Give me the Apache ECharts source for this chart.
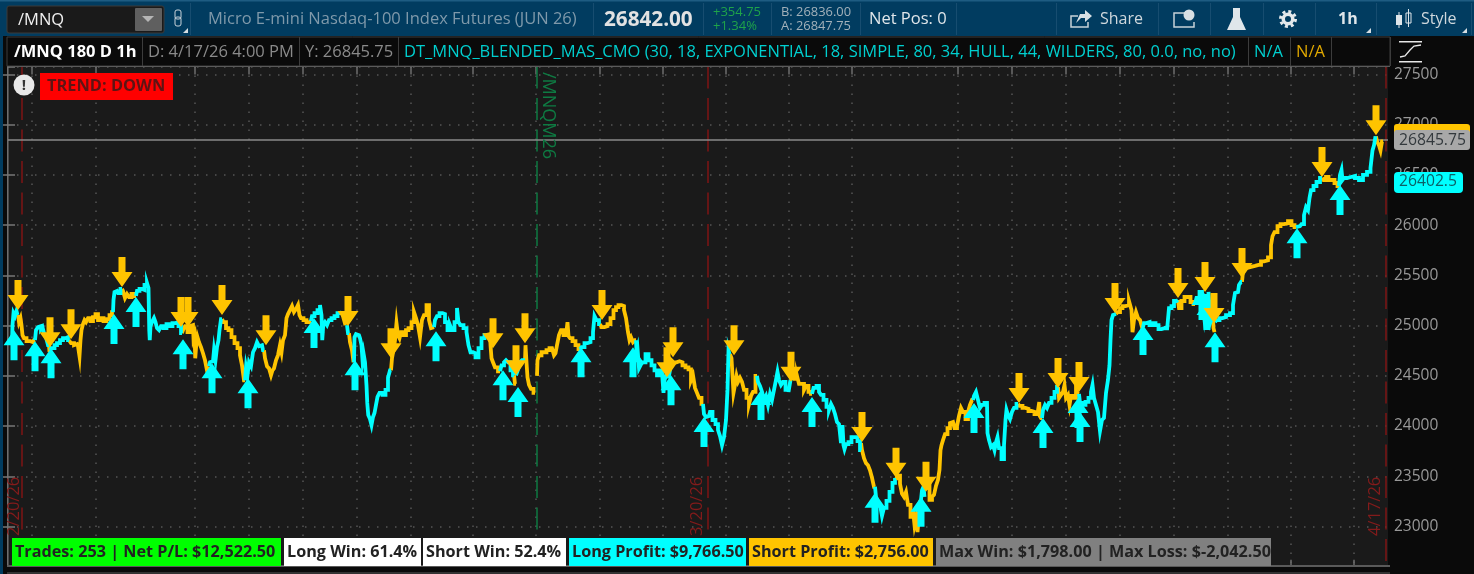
<!DOCTYPE html>
<html>
<head>
<meta charset="utf-8">
<title>/MNQ 180 D 1h</title>
<style>
  html, body { margin: 0; padding: 0; background: #0a0a0a; }
  #main { width: 1474px; height: 574px; }
</style>
<script src="https://cdn.jsdelivr.net/npm/echarts@6/dist/echarts.min.js"></script>
</head>
<body>
<div id="main"></div>
<script>
// price line as [bar, price], one list per trend leg
var longLegs = [
  [[8,24825],[10,25005],[12,25125],[16,25095],[18,25145],[20,25105]],
  [[54,24855],[58,24955],[62,24985],[64,24995],[68,24965],[70,24985],[74,24925],[78,24885],[82,24805]],
  [[84,24755],[90,24775],[96,24805],[100,24825],[108,24855],[112,24875],[118,24885],[122,24855]],
  [[210,25135],[212,25255],[214,25335],[218,25345],[222,25325],[228,25365]],
  [[256,25295],[260,25345],[266,25365],[270,25355],[276,25405],[280,25425],[282,25375],[283,24955],[284,24855],[286,24995],[290,25035],[294,25075],[296,25035],[300,24975],[304,24955],[308,24995],[314,24975],[320,25015],[326,24995],[332,25025],[338,25035],[344,24995],[348,24925]],
  [[402,24595],[406,24635],[410,24645],[414,24755],[416,24655],[420,24785],[422,24855],[424,24955],[428,25065]],
  [[474,24455],[478,24585],[480,24505],[484,24635],[488,24595],[492,24735],[496,24775],[500,24835],[504,24795],[508,24805],[512,24755]],
  [[606,25045],[610,25095],[616,25125],[622,25155],[626,25205],[628,25105],[629,24855],[632,25005],[636,25035],[640,25005],[644,25055],[650,25075],[656,25095],[662,25125],[668,25135]],
  [[678,25005],[682,24925]],
  [[692,24635],[694,24885],[698,24915],[702,24905],[706,24875],[708,24805],[710,24655],[712,24725],[716,24635],[718,24405],[719,24230],[722,24110],[726,24070],[728,24010],[732,24090],[734,24130],[738,24210],[740,24290],[746,24330],[752,24310],[758,24360],[762,24480],[766,24555]],
  [[852,24985],[856,25055],[860,25095],[866,25125],[872,25115],[876,25035],[882,24955],[886,25005],[890,24955],[896,25035],[900,25175],[902,25035],[908,25005],[914,24975],[920,24935],[922,24805],[928,24735],[932,24725],[938,24685],[944,24775],[950,24875],[956,24905]],
  [[984,24545],[990,24605],[994,24635],[998,24655],[1002,24635],[1008,24555],[1012,24505]],
  [[1016,24505],[1020,24495],[1022,24575],[1026,24635],[1030,24655],[1034,24655]],
  [[1144,24765],[1150,24785],[1156,24825],[1162,24835],[1168,24875],[1172,24935],[1174,25095],[1180,25055],[1184,25015]],
  [[1256,24855],[1258,24735],[1260,24775],[1264,24575],[1268,24615],[1272,24635],[1278,24715],[1284,24655],[1290,24605],[1296,24555],[1300,24505],[1306,24555],[1310,24535],[1312,24330],[1314,24455],[1318,24505],[1324,24475],[1326,24585]],
  [[1390,24220],[1394,24120],[1398,24090],[1402,24100],[1406,24140],[1412,24060],[1418,24020],[1422,23960],[1426,23900],[1430,23810],[1434,23890],[1438,24060],[1440,24360],[1442,24755],[1444,24715]],
  [[1498,24500],[1502,24440],[1506,24400],[1510,24340],[1514,24260],[1518,24300],[1522,24210],[1526,24320],[1530,24260],[1534,24360],[1538,24460],[1540,24540],[1544,24460],[1548,24410],[1552,24440],[1558,24360],[1564,24340],[1566,24460]],
  [[1608,24320],[1614,24380],[1620,24400],[1624,24340],[1628,24310],[1634,24260],[1640,24190],[1644,24160],[1648,24220],[1652,24180],[1656,24120],[1660,24040],[1664,24020],[1668,23830],[1670,24010],[1672,23810],[1674,23770],[1678,23820],[1684,23840],[1690,23890],[1696,23890],[1702,23850],[1706,23760]],
  [[1734,23395],[1738,23295],[1742,23245],[1746,23215],[1750,23105],[1754,23185],[1760,23255],[1766,23345],[1772,23435],[1776,23465]],
  [[1826,23265],[1830,23360],[1832,23395],[1834,23295]],
  [[1930,24260],[1934,24300],[1938,24340],[1942,24260],[1946,24180],[1950,24210],[1956,24230],[1958,24230],[1960,23930],[1964,23860],[1968,23790],[1972,23810],[1974,23760],[1978,23840],[1980,23890],[1984,23780],[1990,23670],[1994,23810],[1996,24060],[1998,24160],[2002,24110],[2006,24070],[2010,24140],[2014,24180],[2020,24220]],
  [[2068,24080],[2072,24160],[2076,24210],[2080,24180],[2084,24230],[2090,24280],[2096,24340],[2100,24390]],
  [[2142,24320],[2146,24230],[2152,24210],[2158,24240],[2164,24280],[2168,24340],[2170,24410],[2174,24280],[2178,24210],[2182,24140],[2186,23950],[2190,24060],[2194,24080],[2198,24330],[2202,24460],[2204,24605],[2206,24855],[2208,25055],[2212,25105],[2216,25115]],
  [[2270,24985],[2274,25025],[2280,25035],[2286,25005],[2292,25025],[2298,25005],[2304,24965],[2310,24975],[2316,24985],[2320,24955],[2324,25175],[2330,25195],[2334,25245],[2340,25255]],
  [[2374,25215],[2380,25275],[2386,25335],[2390,25255],[2394,25095],[2398,25295],[2404,25335],[2406,25035],[2410,25075]],
  [[2414,25035],[2420,25055],[2426,25075],[2432,25085],[2440,25105],[2448,25125],[2452,25205],[2456,25325],[2460,25335],[2464,25405],[2468,25435]],
  [[2576,25980],[2584,25990],[2590,26010],[2594,26100],[2598,26180],[2602,26150],[2604,26270],[2608,26350],[2614,26390],[2620,26430],[2628,26470]],
  [[2662,26390],[2666,26500],[2668,26550],[2670,26450],[2674,26470],[2682,26480],[2690,26490],[2698,26470],[2706,26450],[2714,26500],[2722,26530],[2728,26570],[2730,26745],[2734,26795],[2736,26885]]
];
var shortLegs = [
  [[20,25105],[24,25035],[26,25075],[28,25005],[30,24905],[34,24875],[40,24845],[50,24835],[54,24855]],
  [[82,24805],[84,24735]],
  [[122,24855],[130,24825],[134,24805],[138,24815],[142,24795],[144,24695],[146,24855],[148,24955],[152,25015],[154,25055],[158,25035],[162,25075],[168,25045],[172,25085],[178,25115],[182,25055],[188,25075],[194,25045],[200,25065],[206,25105],[210,25135]],
  [[228,25365],[232,25345],[236,25275],[240,25315],[244,25285],[250,25315],[256,25295]],
  [[348,24925],[352,24955],[356,24995],[362,24935],[366,24995],[370,25005],[372,24875],[374,24905],[375,24675],[378,24805],[380,24885],[384,24835],[388,24785],[392,24725],[396,24655],[400,24555],[402,24595]],
  [[428,25065],[434,25035],[438,24975],[444,24955],[450,24885],[456,24825],[462,24775],[466,24705],[470,24605],[474,24455]],
  [[512,24755],[516,24675],[520,24595],[524,24575],[528,24505],[530,24555],[534,24575],[538,24655],[542,24705],[546,24805],[548,24735],[552,24855],[556,24905],[558,25075],[562,25115],[566,25155],[570,25195],[574,25135],[578,25165],[582,25205],[584,25105],[588,25075],[594,25055],[600,25035],[606,25045]],
  [[668,25135],[674,25075],[676,25005]],
  [[682,24925],[686,24835],[690,24755],[692,24635]],
  [[766,24555],[770,24675],[772,24755],[776,24855],[778,25025],[782,24905],[784,24875],[788,24935],[794,24905],[798,24955],[804,24975],[810,25035],[814,25135],[818,25075],[822,25005],[826,24885],[830,25055],[834,25105],[840,25205],[844,25055],[848,24975],[852,24985]],
  [[956,24905],[964,24915],[966,24805],[968,24675],[972,24635],[976,24585],[984,24545]],
  [[1012,24505],[1016,24420]],
  [[1034,24655],[1036,24805],[1038,24635],[1040,24485],[1044,24410],[1048,24370],[1054,24330]],
  [[1058,24500],[1060,24655],[1064,24705],[1070,24735],[1074,24735],[1080,24755],[1086,24775],[1090,24785],[1094,24705],[1096,24725],[1100,24805],[1104,24905],[1108,24955],[1114,24905],[1118,24895],[1120,25035],[1122,24895],[1126,24875],[1132,24845],[1138,24805],[1144,24765]],
  [[1184,25015],[1190,24985],[1196,24995],[1202,25015],[1208,25075],[1214,25155],[1218,25185],[1224,25205],[1230,25195],[1234,25155],[1238,25075],[1242,24935],[1244,24855],[1248,24885],[1252,24835],[1256,24855]],
  [[1326,24585],[1328,24655],[1334,24635],[1340,24645],[1346,24635],[1352,24605],[1358,24585],[1364,24565],[1368,24455],[1372,24505],[1376,24380],[1380,24330],[1384,24280],[1390,24220]],
  [[1444,24715],[1450,24675],[1452,24330],[1456,24410],[1458,24500],[1462,24440],[1466,24480],[1470,24440],[1474,24360],[1480,24280],[1484,24220],[1488,24300],[1492,24340],[1498,24500]],
  [[1566,24460],[1570,24510],[1576,24470],[1580,24500],[1584,24420],[1590,24420],[1594,24360],[1598,24400],[1604,24340],[1608,24320]],
  [[1706,23830],[1710,23760],[1714,23680],[1718,23630],[1722,23610],[1726,23560],[1730,23485],[1734,23395]],
  [[1776,23465],[1782,23505],[1786,23425],[1790,23325],[1794,23295],[1798,23345],[1802,23215],[1808,23095],[1812,23165],[1814,23015],[1818,23085],[1820,22945],[1824,23115],[1826,23265]],
  [[1836,23365],[1840,23445],[1846,23265],[1850,23295],[1854,23315],[1858,23405],[1862,23465],[1864,23565],[1866,23760],[1868,23810],[1872,23860],[1876,23920],[1882,23980],[1886,24030],[1890,24040],[1896,23980],[1900,24000],[1904,24100],[1908,24180],[1912,24140],[1918,24070],[1922,24140],[1926,24210],[1930,24260]],
  [[2020,24220],[2026,24200],[2032,24180],[2038,24170],[2044,24150],[2050,24140],[2056,24120],[2062,24110],[2063,24240],[2064,24100],[2068,24080]],
  [[2100,24390],[2104,24280],[2108,24310],[2112,24340],[2114,24410],[2118,24280],[2122,24310],[2124,24210],[2128,24300],[2134,24280],[2138,24360],[2142,24320]],
  [[2216,25115],[2222,25135],[2226,25175],[2232,25195],[2238,25205],[2246,25245],[2248,25155],[2250,24935],[2254,25055],[2258,25135],[2262,25075],[2266,25055],[2270,24985]],
  [[2340,25255],[2344,25175],[2350,25245],[2356,25285],[2362,25285],[2368,25235],[2374,25215]],
  [[2410,25075],[2412,24975],[2414,24935]],
  [[2468,25435],[2472,25535],[2476,25575],[2482,25585],[2490,25595],[2498,25605],[2504,25605],[2508,25640],[2516,25650],[2524,25680],[2528,25800],[2530,25890],[2536,25930],[2542,25990],[2548,26010],[2556,26020],[2564,26040],[2570,26000],[2576,25980]],
  [[2628,26470],[2634,26450],[2638,26480],[2644,26450],[2650,26450],[2656,26420],[2662,26390]],
  [[2736,26885],[2740,26835],[2744,26795],[2746,26745],[2750,26835]]
];
// signal arrows: [bar, price at the arrow tip]
var sellSignals = [[20,25155],[84,24785],[126,24865],[228,25385],[346,24985],[360,24985],[428,25105],[516,24805],[680,24995],[766,24675],[970,24775],[1016,24505],[1034,24825],[1188,25055],[1318,24485],[1330,24685],[1452,24705],[1566,24440],[1708,23840],[1776,23485],[1836,23345],[2022,24230],[2100,24380],[2142,24340],[2214,25125],[2340,25275],[2394,25335],[2412,25025],[2468,25475],[2628,26480],[2736,26895]];
var buySignals = [[12,24955],[54,24845],[86,24775],[212,25115],[256,25285],[350,24865],[408,24625],[480,24475],[612,25075],[694,24655],[856,24945],[990,24555],[1020,24390],[1146,24785],[1250,24785],[1326,24505],[1392,24090],[1506,24360],[1608,24290],[1734,23335],[1826,23295],[1932,24230],[2070,24080],[2140,24280],[2144,24140],[2270,25005],[2388,25355],[2398,25255],[2414,24935],[2578,25970],[2664,26400]];

var gridTickBars = [48,176,374,482,590,698,806,930,1056,1184,1310,1436,1562,1688,1900,2008,2116,2224,2332,2440,2566,2692];
var periodLines = [{bar: 28, label: '2/20/26'}, {bar: 1400, label: '3/20/26'}, {bar: 2756, label: '4/17/26'}];
var rolloverBar = 1058;
var lastPrice = 26845.75;
var statChips = [
  {text: 'Trades: 253 | Net P/L: $12,522.50', bg: '#00ff00', x: 12, w: 269},
  {text: 'Long Win: 61.4%', bg: '#ffffff', x: 284, w: 137},
  {text: 'Short Win: 52.4%', bg: '#ffffff', x: 423, w: 143},
  {text: 'Long Profit: $9,766.50', bg: '#00ffff', x: 569, w: 177},
  {text: 'Short Profit: $2,756.00', bg: '#ffc400', x: 749, w: 184},
  {text: 'Max Win: $1,798.00 | Max Loss: $-2,042.50', bg: '#808080', x: 936, w: 335}
];
var studyBoxes = [
  {text: '/MNQ 180 D 1h', x: 14, color: '#ffffff', bold: true},
  {text: 'D: 4/17/26 4:00 PM', x: 148, color: '#8a8a8a'},
  {text: 'Y: 26845.75', x: 305, color: '#8a8a8a'},
  {text: 'DT_MNQ_BLENDED_MAS_CMO (30, 18, EXPONENTIAL, 18, SIMPLE, 80, 34, HULL, 44, WILDERS, 80, 0.0, no, no)', x: 404, color: '#00cfcf'},
  {text: 'N/A', x: 1254, color: '#00cfcf'},
  {text: 'N/A', x: 1296, color: '#e0a800'}
];
var studyDividers = [142, 299, 398, 1248, 1290, 1331, 1390];
var headerDividers = [190, 593, 703, 771, 860, 956, 1056, 1158, 1210, 1263, 1315, 1376, 1471];

var FONT = '"Open Sans", "Noto Sans", sans-serif';
var CYAN = '#00ffff', ORANGE = '#ffc400';
var ARROW_DOWN = 'path://M7 0H14V15H21L10.5 30L0 15H7Z';
var ARROW_UP = 'path://M10.5 0L21 15H14V30H7V15H0Z';
var Y_MIN = 22500, Y_MAX = 27580;

function flatten(legs) {
  var out = [];
  legs.forEach(function (leg) {
    out = out.concat(leg);
    out.push(['-', '-']);
  });
  return out;
}
function rect(x, y, w, h, fill, extra) {
  return Object.assign({type: 'rect', z: 50, silent: true, shape: {x: x, y: y, width: w, height: h, r: (extra && extra.r) || 0},
    style: {fill: fill, stroke: extra && extra.stroke, lineWidth: extra && extra.stroke ? 1 : 0}});
}
function text(x, y, str, color, font, align) {
  return {type: 'text', z: 60, silent: true, style: {x: x, y: y, text: str, fill: color, font: font + ' ' + FONT, textVerticalAlign: 'middle', textAlign: align || 'left'}};
}
function poly(points, fill, z) {
  return {type: 'polygon', z: z || 60, silent: true, shape: {points: points}, style: {fill: fill}};
}
function stroke(points, color, width) {
  return {type: 'polyline', z: 60, silent: true, shape: {points: points}, style: {stroke: color, lineWidth: width || 1.5, fill: null}};
}

var chrome = [
  // header bar
  rect(0, 0, 1474, 36, '#013c60'),
  rect(0, 0, 1474, 1.5, '#1e5c82'),
  rect(7, 6, 157, 27, '#1a1a1a', {stroke: '#3a3a3a', r: 2}),
  rect(135, 8, 27, 23, '#5f5f5f', {r: 1}),
  poly([[142, 16], [154, 16], [148, 22]], '#b5b5b5'),
  text(18, 20, '/MNQ', '#f0f0f0', '16.5px'),
  rect(175, 10, 6, 9, 'none', {stroke: '#c9d3da', r: 2}),
  rect(175, 17, 6, 9, 'none', {stroke: '#c9d3da', r: 2}),
  poly([[183, 33], [188, 33], [188, 28]], '#d5dde2'),
  text(208, 19, 'Micro E-mini Nasdaq-100 Index Futures (JUN 26)', '#7f99aa', '16.5px'),
  text(604, 20, '26842.00', '#e2e2e2', 'bold 20.7px'),
  text(713, 12, '+354.75', '#1fa34a', '13px'),
  text(713, 26, '+1.34%', '#1fa34a', '13px'),
  text(781, 12, 'B: 26836.00', '#a3b1ba', '12.9px'),
  text(781, 26, 'A: 26847.75', '#a3b1ba', '12.9px'),
  text(869, 19, 'Net Pos: 0', '#e0e6ea', '16.5px'),
  // share icon
  stroke([[1078, 16], [1071, 16], [1071, 27], [1088, 27], [1088, 22]], '#c8d2d8', 1.5),
  poly([[1076, 23], [1080, 14], [1085, 14], [1085, 10], [1092, 16], [1085, 22], [1085, 18], [1081, 18]], '#d8e0e4'),
  text(1100, 19, 'Share', '#cfd8dd', '16px'),
  // alert icon
  stroke([[1191, 13], [1174, 13], [1174, 27], [1194, 27], [1194, 22]], '#c8d2d8', 1.5),
  {type: 'circle', z: 60, silent: true, shape: {cx: 1189, cy: 15, r: 5.5}, style: {fill: '#d8e0e4'}},
  // flask icon
  poly([[1233, 8], [1240, 8], [1240, 17], [1246, 30], [1227, 30], [1233, 17]], '#dfe6ea'),
  // gear icon
  {type: 'circle', z: 60, silent: true, shape: {cx: 1288, cy: 19, r: 7.5}, style: {fill: 'none', stroke: '#e4e9ec', lineWidth: 3, lineDash: [3, 2.9]}},
  {type: 'ring', z: 60, silent: true, shape: {cx: 1288, cy: 19, r: 6.5, r0: 3}, style: {fill: '#e4e9ec'}},
  text(1338, 19, '1h', '#dfe6ea', 'bold 16px'),
  poly([[1366, 33], [1371, 33], [1371, 28]], '#d5dde2'),
  // candle icon
  rect(1396, 15, 6, 10, '#dfe6ea'),
  rect(1398.5, 12, 1, 16, '#dfe6ea'),
  rect(1406, 13, 5, 10, 'none', {stroke: '#dfe6ea'}),
  rect(1408, 9, 1, 18, '#dfe6ea'),
  text(1421, 19, 'Style', '#cfd8dd', '16px'),
  poly([[1462, 33], [1467, 33], [1467, 28]], '#d5dde2'),

  // study row
  rect(0, 36, 1474, 30, '#0a0a0a'),
  rect(7, 37, 1383, 29, '#0a0a0a', {stroke: '#3c3c3c'}),
  rect(7, 66, 1383, 1, '#5a5a5a'),
  // scale icon
  rect(1399, 41, 23, 1.5, '#e8e8e8'),
  rect(1399, 61, 23, 1.5, '#e8e8e8'),
  stroke([[1400, 57], [1405, 56], [1410, 50], [1414, 46], [1421, 45]], '#e8e8e8', 1.3),

  // badge
  rect(40, 73, 133, 27, '#ff0000'),
  text(47, 86.5, 'TREND: DOWN', '#5e1414', 'bold 16.4px'),
  {type: 'circle', z: 60, silent: true, shape: {cx: 24, cy: 85, r: 10.5}, style: {fill: '#e8e8e8'}},
  text(24, 85.5, '!', '#333333', 'bold 15px', 'center'),

  // price tags
  rect(1394, 124, 76, 16, ORANGE, {r: 3}),
  rect(1394, 130, 76, 20, '#a8a8a8', {r: 3}),
  text(1399, 140.5, '26845.75', '#33393d', '15.7px'),
  rect(1394, 172, 69, 21, CYAN, {r: 4}),
  text(1399, 182, '26402.5', '#0c5f66', '15.7px'),

  // frame bottom and left
  rect(0, 566, 1474, 8, '#0a0a0a'),
  rect(7, 565, 1383, 2, '#5a5a5a'),
  rect(7, 572, 1383, 2, '#333333'),
  rect(0, 36, 3, 538, '#013c60'),

  // rollover label beside its line
  {type: 'text', z: 30, silent: true, x: 548, y: 72, rotation: -Math.PI / 2,
    style: {x: 0, y: 0, text: '/MNQM26', fill: '#0e7a42', font: '18px ' + FONT, textVerticalAlign: 'middle'}}
];
periodLines.forEach(function (p, i) {
  var labelX = [14, 697, 1375][i];
  chrome.push({type: 'text', z: 30, silent: true, x: labelX, y: 536, rotation: Math.PI / 2,
    style: {x: 0, y: 0, text: p.label, fill: '#841b1b', font: '16.5px ' + FONT, textVerticalAlign: 'middle'}});
});
headerDividers.forEach(function (x) { chrome.push(rect(x, 3, 1, 32, '#174d70')); });
studyDividers.forEach(function (x) { chrome.push(rect(x, 37, 1, 29, '#3c3c3c')); });
studyBoxes.forEach(function (b) {
  chrome.push(text(b.x, 52, b.text, b.color, (b.bold ? 'bold ' : '') + '16.5px'));
});
statChips.forEach(function (c) {
  chrome.push(rect(c.x, 538, c.w, 28, c.bg));
  chrome.push(text(c.x + 3, 552.5, c.text, '#222222', 'bold 16.2px'));
});

function verticalLine(bar, color) {
  return [{xAxis: bar, yAxis: Y_MAX, lineStyle: {color: color, type: [22, 9.5], width: 1.5}}, {xAxis: bar, yAxis: Y_MIN}];
}
var markLines = periodLines.map(function (p) { return verticalLine(p.bar, '#7f1414'); });
markLines.push(verticalLine(rolloverBar, '#0e7a42'));
markLines.push({yAxis: lastPrice, lineStyle: {color: '#8a8a8a', type: 'solid', width: 1.5}});

var option = {
  animation: false,
  backgroundColor: '#0a0a0a',
  grid: {left: 8, top: 66.5, width: 1380, height: 510.2, show: true, backgroundColor: '#1a1a1a', borderWidth: 0, outerBoundsMode: 'none'},
  xAxis: [
    {
      type: 'value', min: 0, max: 2760, position: 'top',
      axisLine: {show: false},
      axisTick: {show: true, inside: true, length: 8, customValues: gridTickBars, lineStyle: {color: '#6e6e6e', width: 1.5}},
      axisLabel: {show: false},
      splitLine: {show: true, lineStyle: {color: '#555555', type: [1.5, 7.5], width: 1.5}}
    },
    {
      type: 'value', min: 0, max: 2760, position: 'bottom',
      axisLine: {show: false},
      axisTick: {show: true, inside: true, length: 17, customValues: gridTickBars, lineStyle: {color: '#6e6e6e', width: 1.5}},
      axisLabel: {show: false},
      splitLine: {show: false}
    }
  ],
  yAxis: [
    {
      type: 'value', position: 'right', min: Y_MIN, max: Y_MAX, interval: 500,
      axisLine: {show: true, lineStyle: {color: '#6e6e6e', width: 2}},
      axisTick: {show: true, inside: true, length: 6, lineStyle: {color: '#777777', width: 1.5}},
      axisLabel: {show: true, color: '#999999', fontFamily: FONT, fontSize: 15.5, margin: 6, padding: [5, 0, 0, 0], showMinLabel: false, showMaxLabel: false,
        formatter: function (v) { return String(v); }},
      splitLine: {show: true, lineStyle: {color: '#555555', type: [1.5, 7.5], width: 1.5}}
    },
    {
      type: 'value', position: 'left', min: Y_MIN, max: Y_MAX, interval: 500,
      axisLine: {show: true, lineStyle: {color: '#4a4a4a'}},
      axisTick: {show: true, inside: true, length: 7, lineStyle: {color: '#777777', width: 1.5}},
      axisLabel: {show: false},
      splitLine: {show: false}
    }
  ],
  series: [
    {
      name: 'Short', type: 'line', data: flatten(shortLegs), showSymbol: false, connectNulls: false, z: 3, step: 'middle',
      lineStyle: {color: ORANGE, width: 3.8, join: 'miter'}, silent: true
    },
    {
      name: 'Long', type: 'line', data: flatten(longLegs), showSymbol: false, connectNulls: false, z: 3, step: 'middle',
      lineStyle: {color: CYAN, width: 3.8, join: 'miter'}, silent: true,
      markLine: {silent: true, symbol: 'none', label: {show: false}, data: markLines, z: 2}
    },
    {
      name: 'Buy', type: 'scatter', data: buySignals, symbol: ARROW_UP, symbolSize: [21, 30],
      symbolOffset: [0, '50%'], itemStyle: {color: CYAN, opacity: 1}, z: 5, silent: true
    },
    {
      name: 'Sell', type: 'scatter', data: sellSignals, symbol: ARROW_DOWN, symbolSize: [21, 30],
      symbolOffset: [0, '-50%'], itemStyle: {color: ORANGE, opacity: 1}, z: 6, silent: true
    }
  ],
  graphic: {elements: chrome}
};

var chartDom = document.getElementById('main');
var myChart = echarts.init(chartDom);
option && myChart.setOption(option);
</script>
</body>
</html>
